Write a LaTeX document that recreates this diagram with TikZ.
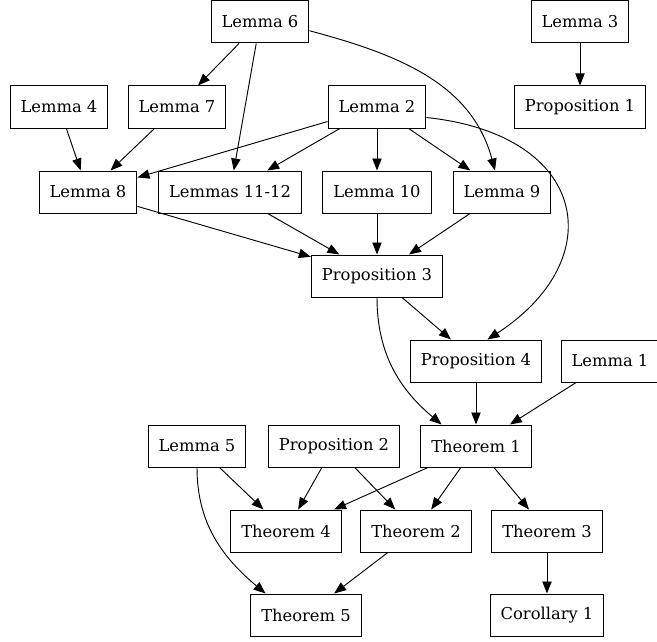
\documentclass[tikz,border=0pt]{standalone}
\usepackage{fontspec}
\setmainfont{DejaVu Serif}
\usetikzlibrary{arrows.meta}

\tikzset{
  box/.style={draw, rectangle, line width=0.75pt, minimum height=31.5pt,
    inner xsep=7.9pt, font=\fontsize{12.25}{14}\selectfont},
  dep/.style={line width=0.7pt, -{Triangle[length=9pt,width=7pt]}}
}

\begin{document}
\begin{tikzpicture}[x=0.75pt, y=-0.75pt]

\useasboundingbox (0,0) rectangle (657,642);

% Ebene 1
\node[box] (lem6) at (260,22) {Lemma 6};
\node[box] (lem3) at (580,22) {Lemma 3};

% Ebene 2
\node[box] (lem4) at (59,107) {Lemma 4};
\node[box] (lem7) at (177,107) {Lemma 7};
\node[box] (lem2) at (377,107) {Lemma 2};
\node[box] (prop1) at (580,107) {Proposition 1};

% Ebene 3
\node[box] (lem8) at (88,192) {Lemma 8};
\node[box] (lem11) at (230,192) {Lemmas 11-12};
\node[box] (lem10) at (377,192) {Lemma 10};
\node[box] (lem9) at (502,192) {Lemma 9};

% Ebene 4 und 5
\node[box] (prop3) at (377,276) {Proposition 3};
\node[box] (prop4) at (476,361) {Proposition 4};
\node[box] (lem1) at (610,361) {Lemma 1};

% Ebene 6
\node[box] (lem5) at (197,446) {Lemma 5};
\node[box] (prop2) at (334,446) {Proposition 2};
\node[box] (thm1) at (476,446) {Theorem 1};

% Ebene 7 und 8
\node[box] (thm4) at (286,531) {Theorem 4};
\node[box] (thm2) at (416,531) {Theorem 2};
\node[box] (thm3) at (547,531) {Theorem 3};
\node[box] (thm5) at (306,615) {Theorem 5};
\node[box] (cor1) at (547,615) {Corollary 1};

% Abhaengigkeiten
\draw[dep] (lem6) -- (lem7);
\draw[dep] (lem6) -- (lem11);
\draw[dep] (lem6.-10) to[out=-15, in=105] (lem9.108);
\draw[dep] (lem3) -- (prop1);
\draw[dep] (lem4) -- (lem8);
\draw[dep] (lem7) -- (lem8);
\draw[dep] (lem2) -- (lem8);
\draw[dep] (lem2) -- (lem11);
\draw[dep] (lem2) -- (lem10);
\draw[dep] (lem2) -- (lem9);
\draw[dep] (lem2.-12) .. controls (590,135) and (610,260) .. (prop4.62);
\draw[dep] (lem8) -- (prop3);
\draw[dep] (lem11) -- (prop3);
\draw[dep] (lem10) -- (prop3);
\draw[dep] (lem9) -- (prop3);
\draw[dep] (prop3) -- (prop4);
\draw[dep] (prop3.south) to[out=-90, in=140] (thm1.148);
\draw[dep] (prop4) -- (thm1);
\draw[dep] (lem1) -- (thm1);
\draw[dep] (lem5) -- (thm4);
\draw[dep] (lem5.south) to[out=-90, in=140] (thm5.152);
\draw[dep] (prop2) -- (thm4);
\draw[dep] (prop2) -- (thm2);
\draw[dep] (thm1) -- (thm4);
\draw[dep] (thm1) -- (thm2);
\draw[dep] (thm1) -- (thm3);
\draw[dep] (thm2) -- (thm5);
\draw[dep] (thm3) -- (cor1);

\end{tikzpicture}
\end{document}
